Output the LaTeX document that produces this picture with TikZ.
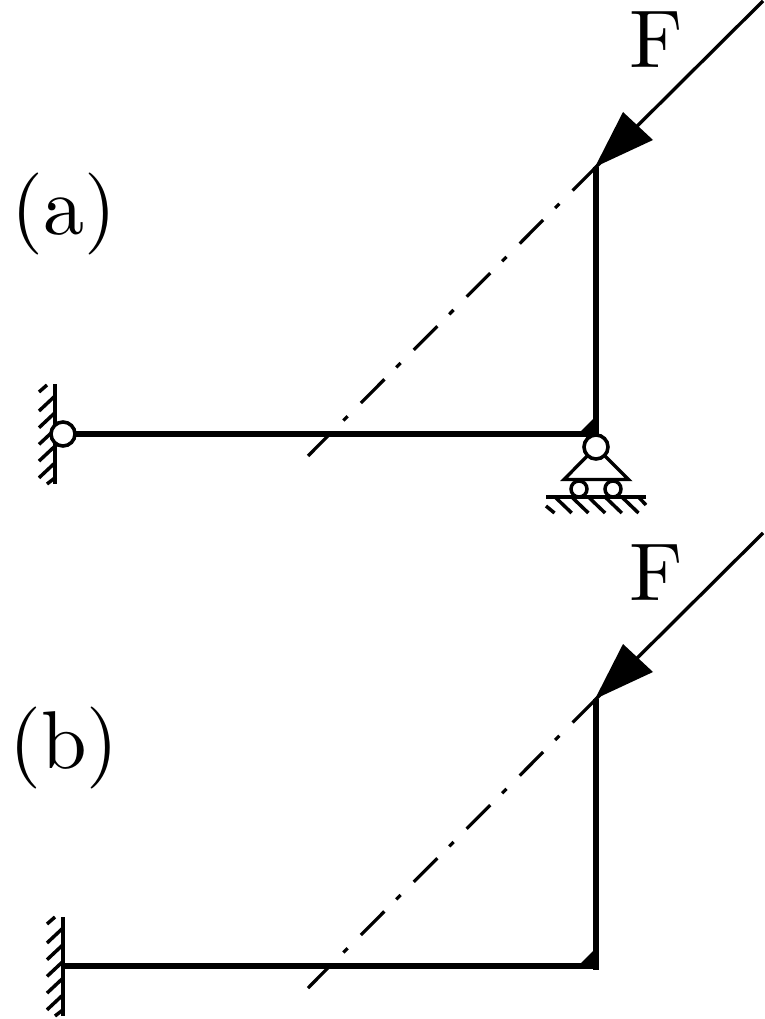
\documentclass[tikz,border=0pt]{standalone}
\font\bigroman="[lmroman10-regular.otf]" at 61.5pt
\tikzset{
  px/.style={x=0.75pt,y=-0.75pt},
  member/.style={line width=4.9pt,line cap=butt},
  thinline/.style={line width=2.5pt},
  hatchline/.style={line width=2.6pt},
  wallline/.style={line width=3.5pt},
  axisline/.style={line width=2.4pt,dash pattern=on 25pt off 14pt on 4.6pt off 12.65pt,dash phase=1.2pt},
  hinge/.style={circle,draw=black,fill=white,line width=2.7pt,inner sep=0pt,minimum size=18pt},
  roller/.style={circle,draw=black,fill=white,line width=2.6pt,inner sep=0pt,minimum size=12pt},
  bigtext/.style={inner sep=0pt,font=\bigroman}
}
\begin{document}
\begin{tikzpicture}[px]
\useasboundingbox (0,0) rectangle (764,1019);
% shared frame, force and line of action
\foreach \dy/\lbl in {0/a,532/b}{
\begin{scope}[shift={(0,\dy)}]
  \coordinate (top\lbl) at (763,1);
  \coordinate (tip\lbl) at (595,168);
  \coordinate (end\lbl) at (308,456);
  \coordinate (knee\lbl) at (596,434);
  \coordinate (head\lbl) at (596,167);
  \coordinate (start\lbl) at (62,434);
  \draw[thinline] (top\lbl) -- (tip\lbl);
  \draw[axisline] (tip\lbl) -- (end\lbl);
  \fill (595,167) -- (623,112) -- (653,140) -- cycle;
  \draw[member] (start\lbl) -- (knee\lbl);
  \draw[member] (head\lbl) -- ([yshift=-3.2]knee\lbl);
  \fill (578,434) -- (596,416) -- (596,434) -- cycle;
  \node[bigtext,anchor=base] (F\lbl) at (656,68) {F};
\end{scope}
}
% wall (a)
\draw[wallline] (55,384) coordinate (wa1) -- (55,484) coordinate (wa2);
\foreach \y in {396,412.7,429.4,446.1,462.8}
  \draw[hatchline] (55,\y) -- (39,\y+15);
\draw[hatchline] (47,385) -- (39,392);
\draw[hatchline] (56,477) -- (47,484);
\node[hinge] (ha) at (63,434) {};
% wall (b)
\draw[wallline] (63,917) coordinate (wb1) -- (63,1016) coordinate (wb2);
\foreach \y in {928,944.7,961.4,978.1,994.8}
  \draw[hatchline] (63,\y) -- (47,\y+15);
\draw[hatchline] (55,917) -- (47,924);
\draw[hatchline] (64,1009) -- (55,1016);
% support (a)
\coordinate (apex) at (596,447);
\draw[thinline,line join=miter] (apex) -- (628.5,479.5) -- (564,479.5) -- cycle;
\node[roller] (r1) at (579,489) {};
\node[roller] (r2) at (613,489) {};
\node[hinge] (hb) at (apex) {};
\draw[hatchline] (546,497) coordinate (g1) -- (646,497) coordinate (g2);
\foreach \x in {555,571.7,588.4,605.1,621.8}
  \draw[hatchline] (\x,497) -- (\x+16.7,513);
\draw[hatchline] (546,506) -- (554.5,513);
\draw[hatchline] (638.5,497) -- (646,505);
% labels
\node[bigtext,anchor=base west] (la) at (11.5,235) {(a)};
\node[bigtext,anchor=base west] (lb) at (9,768) {(b)};
\end{tikzpicture}
\end{document}
